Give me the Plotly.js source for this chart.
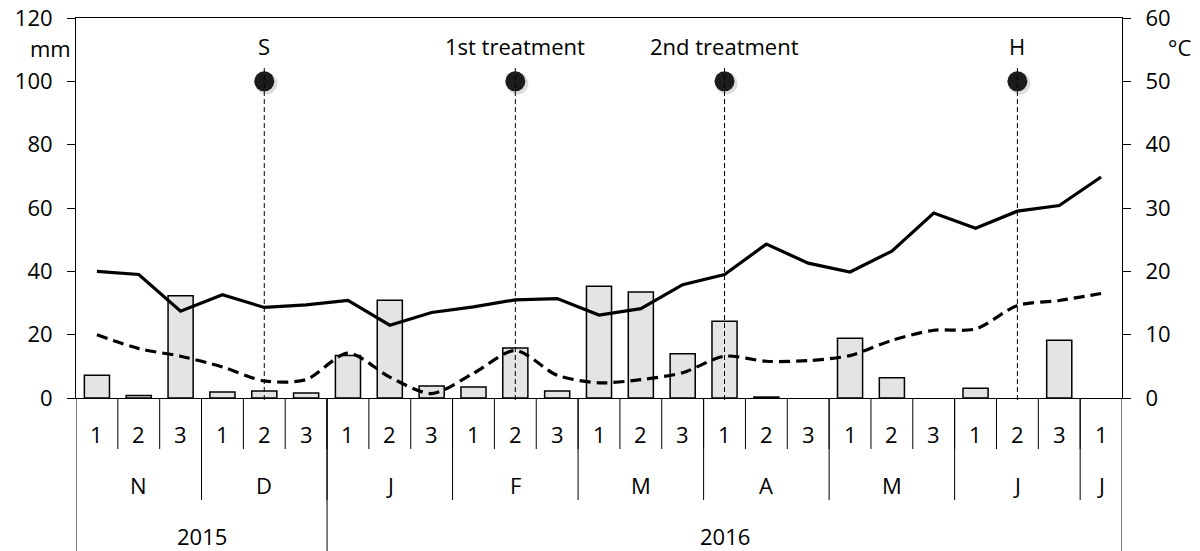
<!DOCTYPE html>
<html>
<head>
<meta charset="utf-8">
<script src="https://cdn.plot.ly/plotly-3.0.1.min.js"></script>
<style>html,body{margin:0;padding:0;background:#fff;}#chart{width:1200px;height:551px;}</style>
</head>
<body>
<div id="chart"></div>
<script>
// ---- data ----
const dekadLabels = ['1','2','3','1','2','3','1','2','3','1','2','3','1','2','3','1','2','3','1','2','3','1','2','3','1'];
const monthLabels = ['N','D','J','F','M','A','M','J','J'];
const monthSpans  = [3,3,3,3,3,3,3,3,1];
const yearLabels  = ['2015','2016'];
const yearSpans   = [6,19];
const rainfall = [7.2,0.8,32.3,1.9,2.2,1.6,13.4,30.9,3.8,3.5,15.8,2.2,35.3,33.5,14.0,24.2,0.3,0,18.9,6.4,0,3.1,0,18.2,0];
const tMax = [20.0,19.5,13.7,16.3,14.3,14.7,15.4,11.5,13.5,14.4,15.5,15.7,13.1,14.1,17.9,19.5,24.3,21.3,19.9,23.2,29.2,26.8,29.5,30.4,34.9];
const tMin = [10.0,7.8,6.6,4.9,2.7,2.9,7.1,3.3,0.7,3.9,7.5,3.6,2.4,2.9,4.0,6.6,5.8,5.9,6.7,9.1,10.7,10.9,14.6,15.4,16.5];
const eventLabels = ['S','1st treatment','2nd treatment','H'];
const eventIndex  = [4,10,15,22];
const eventValue  = [100,100,100,100];

// ---- build ----
const xs = dekadLabels.map((_, i) => i);
const FONT = '"Open Sans", Lato, sans-serif';
const FS = 22;
const H = 380; // plot height px
const py = p => (398 - p) / H; // pixel y -> paper y

const traces = [
  {type:'bar', x:xs, y:rainfall.map(v => v === 0 ? null : v), yaxis:'y', width:0.6,
   marker:{color:'#e4e4e4', line:{color:'#000', width:1.5}}, hoverinfo:'skip'},
  {type:'scatter', mode:'lines', x:xs, y:tMax, yaxis:'y2',
   line:{color:'#000', width:3.2}, hoverinfo:'skip'},
  {type:'scatter', mode:'lines', x:xs, y:tMin, yaxis:'y2',
   line:{color:'#000', width:3.2, dash:'11px,6px', shape:'spline', smoothing:0.8}, hoverinfo:'skip'},
  {type:'scatter', mode:'markers', x:eventIndex.map(i => i + 0.05), y:eventValue.map(v => v - 0.7), yaxis:'y',
   marker:{size:22, color:'rgba(0,0,0,0.13)'}, hoverinfo:'skip'},
  {type:'scatter', mode:'markers', x:eventIndex, y:eventValue, yaxis:'y',
   marker:{size:20, color:'#1c1c1c'}, hoverinfo:'skip'}
];

const shapes = [];
const annotations = [];
const yDek = py(449), yMon = py(500), yYear = py(551);

// dekad dividers
for (let i = 1; i < xs.length; i++) {
  shapes.push({type:'line', xref:'x', yref:'paper', x0:i-0.5, x1:i-0.5, y0:0, y1:yDek, line:{color:'#000', width:1}});
}
// month dividers + labels
let pos = 0;
monthLabels.forEach((m, k) => {
  const start = pos, end = pos + monthSpans[k];
  annotations.push({xref:'x', yref:'paper', x:(start+end-1)/2, y:py(485), text:m, showarrow:false,
    font:{family:FONT, size:FS, color:'#000'}, xanchor:'center', yanchor:'middle'});
  if (k < monthLabels.length - 1) {
    shapes.push({type:'line', xref:'x', yref:'paper', x0:end-0.5, x1:end-0.5, y0:0, y1:yMon, line:{color:'#000', width:1}});
  }
  pos = end;
});
// year dividers + labels
pos = 0;
yearLabels.forEach((yl, k) => {
  const start = pos, end = pos + yearSpans[k];
  annotations.push({xref:'x', yref:'paper', x:(start+end-1)/2, y:py(536), text:yl, showarrow:false,
    font:{family:FONT, size:FS, color:'#000'}, xanchor:'center', yanchor:'middle'});
  shapes.push({type:'line', xref:'x', yref:'paper', x0:end-0.5, x1:end-0.5, y0:0, y1:yYear, line:{color:'#000', width:1}});
  pos = end;
});
shapes.push({type:'line', xref:'x', yref:'paper', x0:-0.5, x1:-0.5, y0:0, y1:yYear, line:{color:'#000', width:1}});
// dekad labels
dekadLabels.forEach((d, i) => {
  annotations.push({xref:'x', yref:'paper', x:i, y:py(434), text:d, showarrow:false,
    font:{family:FONT, size:FS, color:'#000'}, xanchor:'center', yanchor:'middle'});
});
// events
eventIndex.forEach((idx, k) => {
  shapes.push({type:'line', xref:'x', yref:'paper', x0:idx, x1:idx, y0:py(400), y1:py(68), layer:'above',
    line:{color:'#000', width:1, dash:'5px,3px'}});
  annotations.push({xref:'x', yref:'paper', x:idx, y:py(46), text:eventLabels[k], showarrow:false,
    font:{family:FONT, size:FS, color:'#000'}, xanchor:'center', yanchor:'middle'});
});
// unit labels
annotations.push({xref:'paper', yref:'paper', x:(73-76)/1046, y:py(48), text:'mm', showarrow:false,
  font:{family:FONT, size:FS, color:'#000'}, xanchor:'right', yanchor:'middle'});
annotations.push({xref:'paper', yref:'paper', x:(1166-76)/1046, y:py(47), text:'°C', showarrow:false,
  font:{family:FONT, size:FS, color:'#000'}, xanchor:'left', yanchor:'middle'});

const layout = {
  width:1200, height:551,
  margin:{l:76, r:78, t:18, b:153, pad:0},
  paper_bgcolor:'#fff', plot_bgcolor:'#fff',
  showlegend:false,
  font:{family:FONT, size:FS, color:'#000'},
  xaxis:{range:[-0.5,24.5], showticklabels:false, ticks:'', showgrid:false, zeroline:false,
    showline:true, linecolor:'#000', linewidth:1, mirror:true, fixedrange:true},
  yaxis:{range:[0,120], dtick:20, tick0:0, ticks:'outside', ticklen:8, tickcolor:'#000', tickwidth:1,
    showline:true, linecolor:'#000', linewidth:1, showgrid:false, zeroline:false,
    tickfont:{family:FONT, size:FS, color:'#000'}, ticklabelstandoff:10},
  yaxis2:{range:[0,60], dtick:10, tick0:0, overlaying:'y', side:'right', ticks:'outside', ticklen:8,
    tickcolor:'#000', tickwidth:1, showline:true, linecolor:'#000', linewidth:1, showgrid:false, zeroline:false,
    tickfont:{family:FONT, size:FS, color:'#000'}, ticklabelstandoff:10},
  shapes:shapes,
  annotations:annotations
};

Plotly.newPlot('chart', traces, layout, {staticPlot:true, displayModeBar:false});
</script>
</body>
</html>
